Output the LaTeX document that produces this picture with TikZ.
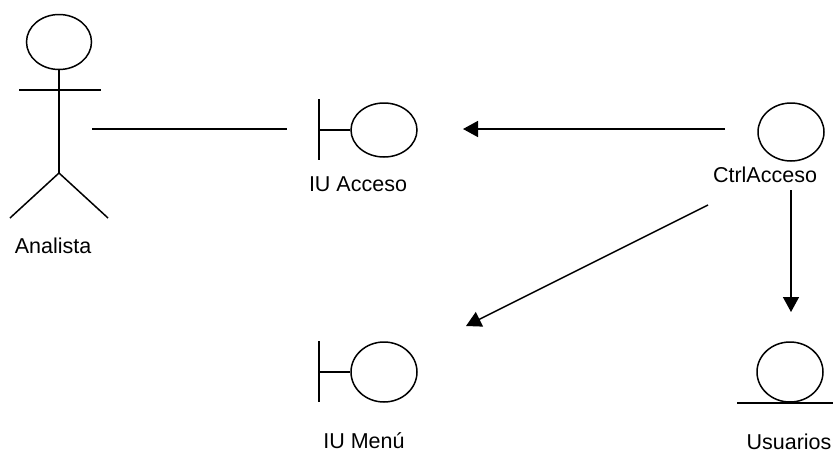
\documentclass[tikz,border=0pt]{standalone}
\usepackage{fontspec}
\setmainfont{Liberation Sans}
\usetikzlibrary{arrows.meta,shapes.geometric}
\begin{document}
\begin{tikzpicture}[x=1pt,y=-1pt,
  ln/.style={line width=1.5pt,black},
  circ/.style={ellipse,draw,line width=1.5pt,inner sep=0pt},
  lbl/.style={font=\fontsize{21.5}{24}\selectfont,anchor=base,inner sep=0pt},
  arr/.style={ln,-{Triangle[length=15pt,width=16pt]}}]
\useasboundingbox (0,0) rectangle (833,456);
% Actor Analista
\node[circ,minimum width=65pt,minimum height=55pt] (head) at (59,42) {};
\coordinate (hip) at (59,173);
\draw[ln] (head.south) -- (hip);
\draw[ln] (19,90) -- (101,90);
\draw[ln] (10,218) -- (hip) -- (108,218);
\node[lbl] (analista) at (53,253) {Analista};
% IU Acceso
\node[circ,minimum width=66pt,minimum height=54pt] (acc) at (384,130) {};
\draw[ln] (319,99) -- (319,160);
\draw[ln] (319,130) -- (acc.west);
\node[lbl] (accl) at (358,191) {IU Acceso};
% CtrlAcceso
\node[circ,minimum width=66pt,minimum height=58pt] (ctrl) at (791,132) {};
\node[lbl] (ctrll) at (765,182) {CtrlAcceso};
% IU Menu
\node[circ,minimum width=66pt,minimum height=60pt] (menu) at (384,372) {};
\draw[ln] (319,341) -- (319,402);
\draw[ln] (319,372) -- (menu.west);
\node[lbl] (menul) at (364,448) {IU Menú};
% Usuarios
\node[circ,minimum width=66pt,minimum height=60pt] (usu) at (790,372) {};
\draw[ln] (737,403) -- (833,403);
\node[lbl] (usul) at (789,449) {Usuarios};
% connectors
\coordinate (a1) at (92,129);
\coordinate (a2) at (287,129);
\draw[ln] (a1) -- (a2);
\coordinate (c1) at (725,129);
\coordinate (c2) at (463,129);
\draw[arr] (c1) -- (c2);
\coordinate (d1) at (708,205);
\coordinate (d2) at (466,326);
\draw[arr] (d1) -- (d2);
\coordinate (e1) at (791,190);
\coordinate (e2) at (791,312);
\draw[arr] (e1) -- (e2);
\end{tikzpicture}
\end{document}
